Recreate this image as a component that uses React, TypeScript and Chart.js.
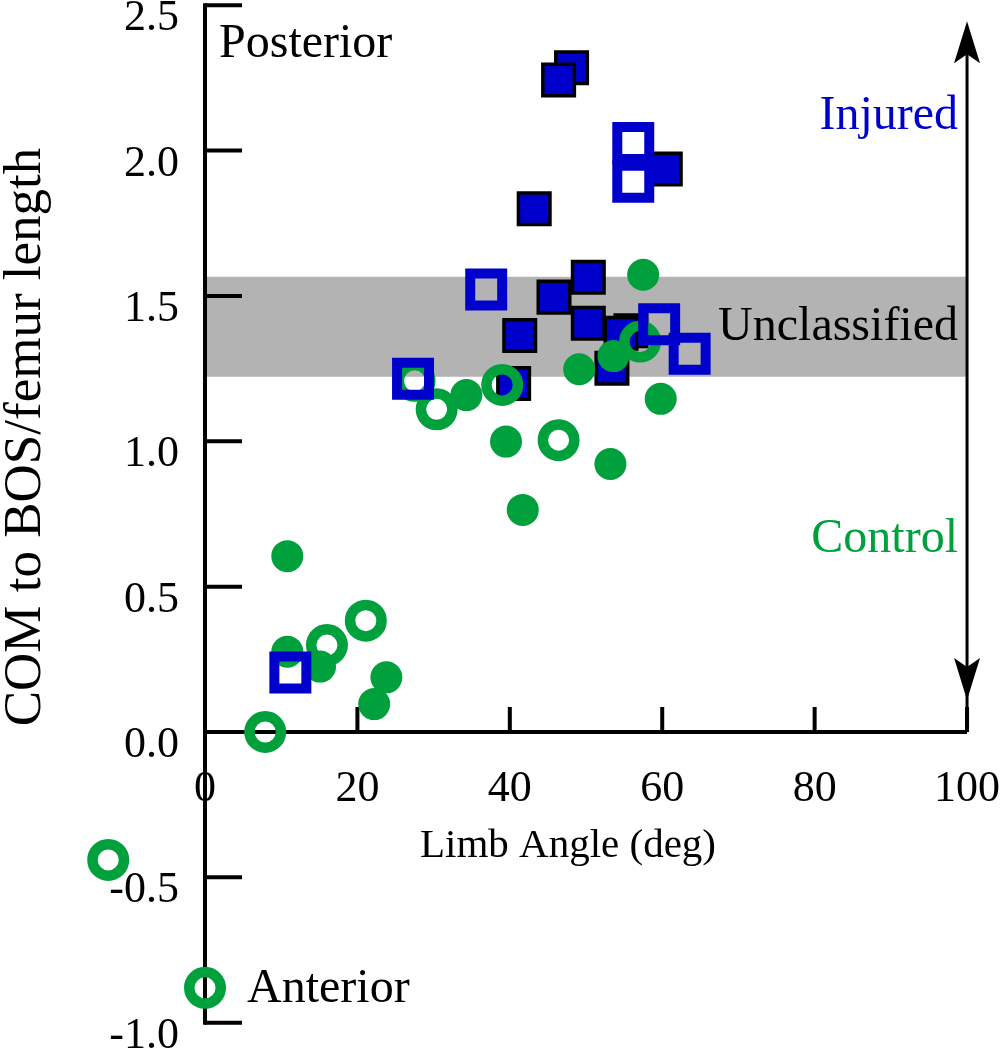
import React, { useEffect, useRef } from "react";
import { Chart, registerables } from "chart.js";

Chart.register(...registerables);

// ---- Data ----
// Injured, filled squares
const injuredFilledX = [48.1, 46.4, 43.2, 60.4, 50.3, 45.8, 41.3, 55.9, 54.6, 50.3, 53.4, 40.5];
const injuredFilledY = [2.285, 2.243, 1.8, 1.937, 1.564, 1.496, 1.364, 1.38, 1.372, 1.406, 1.251, 1.199];
// Injured, open squares
const injuredOpenX = [56.2, 56.2, 36.9, 59.6, 63.6, 27.3, 11.2];
const injuredOpenY = [2.026, 1.893, 1.522, 1.403, 1.301, 1.215, 0.205];
// Control, filled circles
const controlFilledX = [10.8, 10.8, 15.1, 23.8, 22.2, 34.3, 39.5, 41.7, 53.2, 59.8, 49.1, 53.6, 57.5];
const controlFilledY = [0.605, 0.276, 0.225, 0.188, 0.096, 1.159, 0.999, 0.764, 0.922, 1.146, 1.248, 1.293, 1.573];
// Control, open circles
const controlOpenX = [7.9, 16.0, 21.1, 30.4, 39.0, 46.4, 57.1, -12.7, 27.5];
const controlOpenY = [0.0, 0.299, 0.383, 1.11, 1.194, 1.004, 1.343, -0.44, 1.208];
// "Anterior" key marker
const anteriorMarkerX = [0];
const anteriorMarkerY = [-0.88];

// Axis ticks
const yTickValues = [-1.0, -0.5, 0.0, 0.5, 1.0, 1.5, 2.0, 2.5];
const yTickLabels = ["-1.0", "-0.5", "0.0", "0.5", "1.0", "1.5", "2.0", "2.5"];
const xTickValues = [0, 20, 40, 60, 80, 100];
const xTickLabels = ["0", "20", "40", "60", "80", "100"];

// Unclassified band and the double arrow (data units)
const unclassifiedBand = [1.222, 1.566];
const bandXRange = [0, 100];
const arrowRange = [0.11, 2.445];

const BLUE = "#0000cc";
const GREEN = "#00a03c";
const GREY = "#b3b3b3";
const FONT = "'Liberation Serif', 'Times New Roman', serif";

const zip = (xs: number[], ys: number[]) => xs.map((x, i) => ({ x, y: ys[i] }));

const decorPlugin = {
  id: "decor",
  beforeDatasetsDraw(chart: any) {
    const ctx: CanvasRenderingContext2D = chart.ctx;
    const xs = chart.scales.x;
    const ys = chart.scales.y;
    const X = (v: number) => xs.getPixelForValue(v);
    const Y = (v: number) => ys.getPixelForValue(v);
    ctx.save();

    // grey band
    ctx.fillStyle = GREY;
    ctx.fillRect(
      X(bandXRange[0]),
      Y(unclassifiedBand[1]),
      X(bandXRange[1]) - X(bandXRange[0]),
      Y(unclassifiedBand[0]) - Y(unclassifiedBand[1])
    );

    // axes
    ctx.strokeStyle = "#000";
    ctx.lineWidth = 4;
    ctx.lineCap = "butt";
    const x0 = X(0);
    const y0 = Y(0);
    ctx.beginPath();
    ctx.moveTo(x0, Y(2.5) - 2);
    ctx.lineTo(x0, Y(-1.0) + 2);
    ctx.moveTo(x0, y0);
    ctx.lineTo(X(100), y0);
    ctx.stroke();

    // y ticks (pointing right)
    ctx.beginPath();
    yTickValues.forEach((v) => {
      ctx.moveTo(x0, Y(v));
      ctx.lineTo(x0 + 37, Y(v));
    });
    // x ticks (pointing up)
    xTickValues.forEach((v) => {
      if (v === 0) return;
      ctx.moveTo(X(v), y0);
      ctx.lineTo(X(v), y0 - 25);
    });
    ctx.stroke();

    // right double arrow
    const ax = X(100);
    const yTop = Y(arrowRange[1]);
    const yBot = Y(arrowRange[0]);
    ctx.lineWidth = 3;
    ctx.beginPath();
    ctx.moveTo(ax, yTop + 20);
    ctx.lineTo(ax, y0);
    ctx.stroke();
    ctx.fillStyle = "#000";
    ctx.beginPath();
    ctx.moveTo(ax, yTop);
    ctx.lineTo(ax - 13, yTop + 42);
    ctx.lineTo(ax, yTop + 33);
    ctx.lineTo(ax + 13, yTop + 42);
    ctx.closePath();
    ctx.fill();
    ctx.beginPath();
    ctx.moveTo(ax, yBot);
    ctx.lineTo(ax - 13, yBot - 42);
    ctx.lineTo(ax, yBot - 33);
    ctx.lineTo(ax + 13, yBot - 42);
    ctx.closePath();
    ctx.fill();

    // tick labels
    ctx.font = `44px ${FONT}`;
    ctx.fillStyle = "#000";
    ctx.textAlign = "right";
    ctx.textBaseline = "alphabetic";
    yTickValues.forEach((v, i) => {
      ctx.fillText(yTickLabels[i], x0 - 26, Y(v) + 25);
    });
    ctx.textAlign = "center";
    xTickValues.forEach((v, i) => {
      ctx.fillText(xTickLabels[i], X(v), y0 + 69);
    });

    // axis titles
    ctx.font = `41px ${FONT}`;
    ctx.textAlign = "center";
    ctx.fillText("Limb Angle (deg)", 568, 857);
    ctx.save();
    ctx.translate(40, 437);
    ctx.rotate(-Math.PI / 2);
    ctx.font = `53px ${FONT}`;
    ctx.fillText("COM to BOS/femur length", 0, 0);
    ctx.restore();

    // annotations
    ctx.font = `48px ${FONT}`;
    ctx.textAlign = "left";
    ctx.fillStyle = "#000";
    ctx.fillText("Posterior", 219, 57);
    ctx.fillText("Anterior", 247, 1002);
    ctx.textAlign = "right";
    ctx.fillStyle = BLUE;
    ctx.fillText("Injured", 958, 129);
    ctx.fillStyle = "#000";
    ctx.fillText("Unclassified", 958, 340);
    ctx.fillStyle = GREEN;
    ctx.fillText("Control", 958, 552);

    ctx.restore();
  },
};

export default function App() {
  const canvasRef = useRef<HTMLCanvasElement | null>(null);

  useEffect(() => {
    document.body.style.margin = "0";
    const canvas = canvasRef.current;
    if (!canvas) return;
    const chart = new Chart(canvas, {
      type: "scatter",
      data: {
        datasets: [
          {
            label: "Injured (open)",
            data: zip(injuredOpenX, injuredOpenY),
            pointStyle: "rect",
            pointRadius: 22.6,
            pointBorderWidth: 10,
            pointBorderColor: BLUE,
            pointBackgroundColor: "rgba(0,0,0,0)",
            order: 1,
            clip: false,
          } as any,
          {
            label: "Control (open)",
            data: zip(controlOpenX, controlOpenY),
            pointStyle: "circle",
            pointRadius: 15.75,
            pointBorderWidth: 10.5,
            pointBorderColor: GREEN,
            pointBackgroundColor: "rgba(0,0,0,0)",
            order: 2,
            clip: false,
          } as any,
          {
            label: "Anterior key",
            data: zip(anteriorMarkerX, anteriorMarkerY),
            pointStyle: "circle",
            pointRadius: 15.75,
            pointBorderWidth: 10.5,
            pointBorderColor: GREEN,
            pointBackgroundColor: "rgba(0,0,0,0)",
            order: 2,
            clip: false,
          } as any,
          {
            label: "Control (filled)",
            data: zip(controlFilledX, controlFilledY),
            pointStyle: "circle",
            pointRadius: 16,
            pointBorderWidth: 0,
            pointBorderColor: GREEN,
            pointBackgroundColor: GREEN,
            order: 3,
            clip: false,
          } as any,
          {
            label: "Injured (filled)",
            data: zip(injuredFilledX, injuredFilledY),
            pointStyle: "rect",
            pointRadius: 22.3,
            pointBorderWidth: 3.5,
            pointBorderColor: "#000",
            pointBackgroundColor: BLUE,
            order: 4,
            clip: false,
          } as any,
        ],
      },
      options: {
        animation: false,
        responsive: false,
        events: [],
        layout: { autoPadding: false, padding: { left: 14.5, right: 14.1, top: 5.25, bottom: 27.3 } },
        plugins: { legend: { display: false }, tooltip: { enabled: false }, title: { display: false } },
        scales: {
          x: { type: "linear", min: -25, max: 103, display: false },
          y: { type: "linear", min: -1, max: 2.5, display: false },
        },
      },
      plugins: [decorPlugin],
    });
    return () => chart.destroy();
  }, []);

  return (
    <div style={{ width: 1004, height: 1050, background: "#fff" }}>
      <canvas ref={canvasRef} width={1004} height={1050} style={{ display: "block" }} />
    </div>
  );
}
